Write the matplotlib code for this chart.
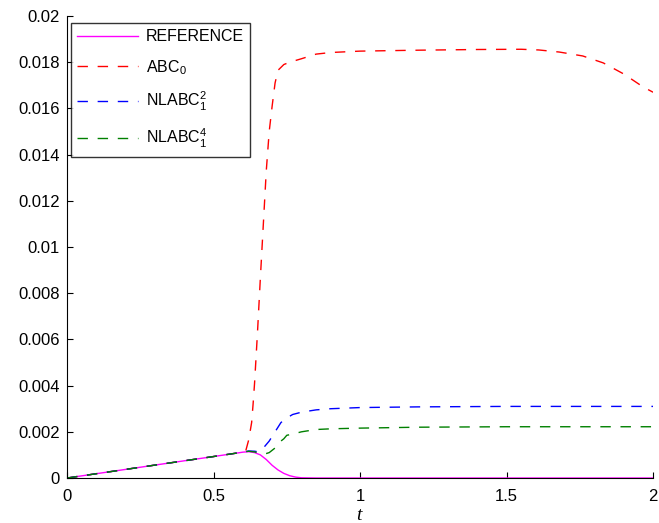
import matplotlib
matplotlib.use('Agg')
import matplotlib.pyplot as plt

plt.rcParams['font.family'] = ['Liberation Sans', 'DejaVu Sans']
plt.rcParams['mathtext.fontset'] = 'custom'
plt.rcParams['mathtext.rm'] = 'Liberation Sans'
plt.rcParams['mathtext.it'] = 'Liberation Serif:italic'
plt.rcParams['mathtext.default'] = 'regular'

# REFERENCE
t_ref = [0, 0.3, 0.5, 0.58, 0.6, 0.62, 0.64, 0.66, 0.68, 0.70, 0.72, 0.74,
         0.76, 0.78, 0.80, 0.85, 2.0]
v_ref = [0, 0.00056, 0.00093, 0.00108, 0.00112, 0.00114, 0.00110, 0.00100,
         0.00080, 0.00055, 0.00035, 0.00020, 0.00010, 0.00004, 0.00001, 0, 0]

# ABC_0
t_abc = [0, 0.3, 0.5, 0.6, 0.61, 0.62, 0.63, 0.635, 0.64, 0.65, 0.66, 0.67,
         0.68, 0.69, 0.70, 0.71, 0.72, 0.74, 0.76, 0.80, 0.85, 0.90, 1.0, 1.2,
         1.4, 1.55, 1.61, 1.68, 1.76, 1.83, 1.90, 1.966, 2.0]
v_abc = [0, 0.00056, 0.00093, 0.00112, 0.00118, 0.00165, 0.0024, 0.0032,
         0.0041, 0.0063, 0.0087, 0.0110, 0.0133, 0.0150, 0.0161, 0.0171,
         0.01765, 0.0179, 0.0180, 0.01815, 0.01835, 0.01842, 0.01848, 0.01852,
         0.01855, 0.01856, 0.01853, 0.01844, 0.01827, 0.01797, 0.01749,
         0.01693, 0.0167]

# NLABC_1^2
t_nl2 = [0, 0.3, 0.5, 0.6, 0.62, 0.64, 0.65, 0.66, 0.67, 0.68, 0.69, 0.70,
         0.71, 0.72, 0.73, 0.75, 0.77, 0.80, 0.85, 0.90, 1.0, 1.2, 1.5, 2.0]
v_nl2 = [0, 0.00056, 0.00093, 0.00112, 0.00117, 0.00116, 0.00114, 0.00118,
         0.0013, 0.00145, 0.0016, 0.0018, 0.0020, 0.0022, 0.0024, 0.0026,
         0.00275, 0.00285, 0.00295, 0.0030, 0.00305, 0.00308, 0.0031, 0.0031]

# NLABC_1^4
t_nl4 = [0, 0.3, 0.5, 0.6, 0.62, 0.64, 0.66, 0.67, 0.68, 0.69, 0.70, 0.71,
         0.72, 0.73, 0.74, 0.75, 0.77, 0.80, 0.85, 0.90, 1.0, 1.2, 1.5, 2.0]
v_nl4 = [0, 0.00056, 0.00093, 0.00112, 0.00116, 0.00113, 0.00106, 0.00104,
         0.00106, 0.0011, 0.0012, 0.0013, 0.0014, 0.0016, 0.0017, 0.00185,
         0.0019, 0.0020, 0.0021, 0.00213, 0.00216, 0.0022, 0.00222, 0.00222]

x_ticks = [0, 0.5, 1, 1.5, 2]
x_labels = ['0', '0.5', '1', '1.5', '2']
y_ticks = [0, 0.002, 0.004, 0.006, 0.008, 0.01, 0.012, 0.014, 0.016, 0.018, 0.02]
y_labels = ['0', '0.002', '0.004', '0.006', '0.008', '0.01', '0.012', '0.014',
            '0.016', '0.018', '0.02']

fig = plt.figure(figsize=(6.59, 5.23), dpi=100)
ax = fig.add_axes([0.1017, 0.086, 0.8893, 0.8834])

dash = (7.5, 7)
ax.plot(t_ref, v_ref, color='#ff00ff', lw=1, label='REFERENCE')
ax.plot(t_abc, v_abc, color='#ff0000', lw=1, dashes=dash, label='ABC$_0$')
ax.plot(t_nl2, v_nl2, color='#0000ff', lw=1, dashes=dash, label='NLABC$_1^2$')
ax.plot(t_nl4, v_nl4, color='#008000', lw=1, dashes=dash, label='NLABC$_1^4$')

ax.set_xlim(0, 2)
ax.set_ylim(0, 0.02)
ax.set_xticks(x_ticks)
ax.set_xticklabels(x_labels)
ax.set_yticks(y_ticks)
ax.set_yticklabels(y_labels)
ax.tick_params(direction='in', labelsize=12, length=4, width=0.8)
ax.tick_params(axis='x', pad=8)
ax.tick_params(axis='y', pad=5)
ax.spines['top'].set_visible(False)
ax.spines['right'].set_visible(False)
ax.set_xlabel('$\\mathit{t}$', fontsize=14, labelpad=2)

leg = ax.legend(loc='upper left', bbox_to_anchor=(0.006, 0.985), fontsize=11.5,
                frameon=True, fancybox=False, edgecolor='black',
                handlelength=3.8, labelspacing=0.85, borderpad=0.4,
                handletextpad=0.5, borderaxespad=0)
leg.get_frame().set_linewidth(1.0)

fig.savefig('out.png', dpi=100)
